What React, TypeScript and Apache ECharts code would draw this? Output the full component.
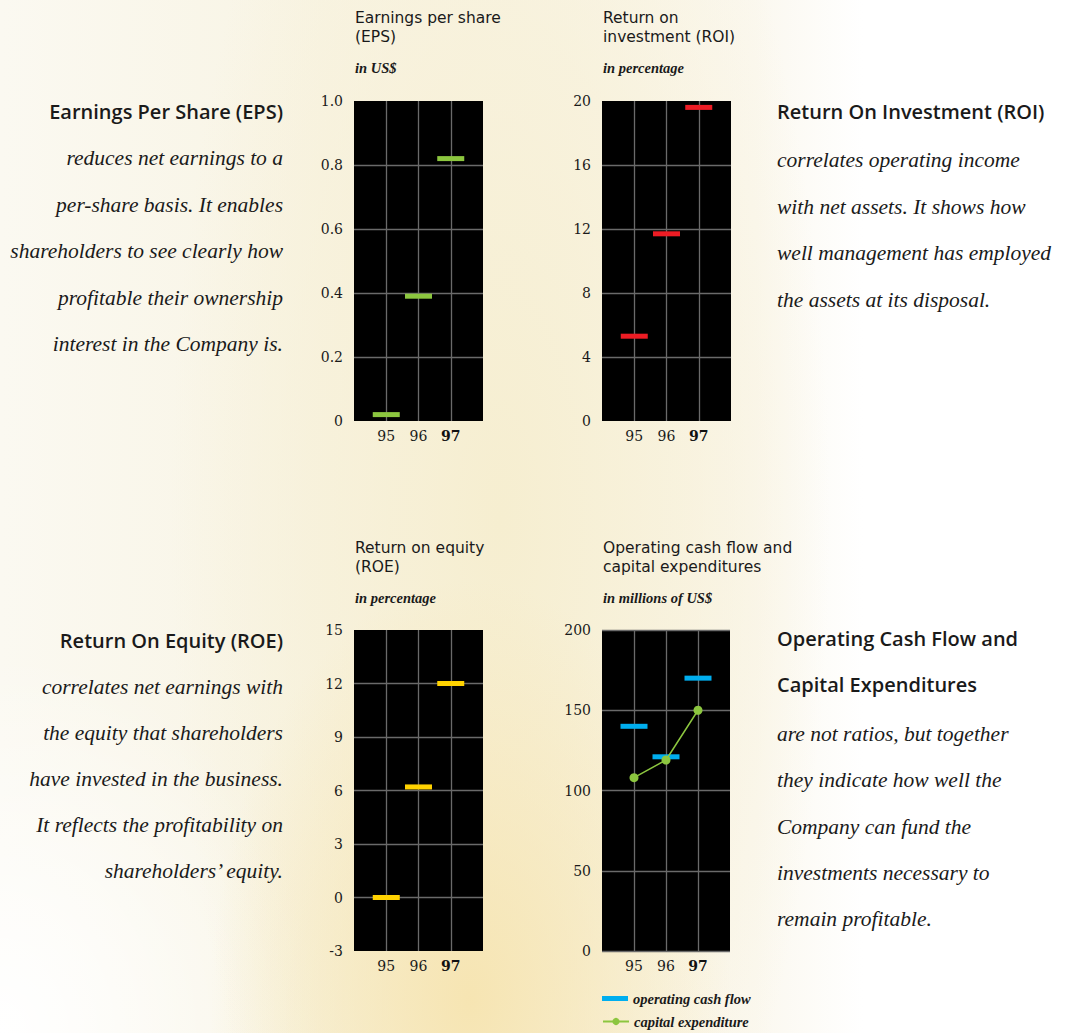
import React, { useEffect, useRef } from "react";
import * as echarts from "echarts";

// ---- data ----
const years = [95, 96, 97];
const eps = [0.02, 0.39, 0.82];
const roi = [5.3, 11.7, 19.6];
const roe = [0, 6.2, 12];
const opCashFlow = [140, 121, 170];
const capex = [108, 119, 150];

const epsTicks = [0, 0.2, 0.4, 0.6, 0.8, 1.0];
const roiTicks = [0, 4, 8, 12, 16, 20];
const roeTicks = [-3, 0, 3, 6, 9, 12, 15];
const cfTicks = [0, 50, 100, 150, 200];

const chartTitles = [
  ["Earnings per share", "(EPS)"],
  ["Return on", "investment (ROI)"],
  ["Return on equity", "(ROE)"],
  ["Operating cash flow and", "capital expenditures"],
];
const chartUnits = ["in US$", "in percentage", "in percentage", "in millions of US$"];

const epsHeading = "Earnings Per Share (EPS)";
const epsBody = [
  "reduces net earnings to a",
  "per-share basis. It enables",
  "shareholders to see clearly how",
  "profitable their ownership",
  "interest in the Company is.",
];
const roiHeading = "Return On Investment (ROI)";
const roiBody = [
  "correlates operating income",
  "with net assets. It shows how",
  "well management has employed",
  "the assets at its disposal.",
];
const roeHeading = "Return On Equity (ROE)";
const roeBody = [
  "correlates net earnings with",
  "the equity that shareholders",
  "have invested in the business.",
  "It reflects the profitability on",
  "shareholders\u2019 equity.",
];
const cfHeading = ["Operating Cash Flow and", "Capital Expenditures"];
const cfBody = [
  "are not ratios, but together",
  "they indicate how well the",
  "Company can fund the",
  "investments necessary to",
  "remain profitable.",
];

const legendNames = ["operating cash flow", "capital expenditure"];

const GREEN = "#8cc63f";
const RED = "#ed1c24";
const YELLOW = "#ffd200";
const BLUE = "#00aeef";
const GRID_LINE = "#6a6a6a";
const TEXT = "#1a1a1a";

const HEAD_FONT = '600 20px "Open Sans"';
const BODY_FONT = 'italic 21.5px "Liberation Serif"';
const TITLE_FONT = '15.5px "DejaVu Sans"';
const UNIT_FONT = 'italic bold 14.5px "Liberation Serif"';

export default function App() {
  const ref = useRef<HTMLDivElement>(null);

  useEffect(() => {
    if (!ref.current) return;
    const chart = echarts.init(ref.current, undefined, { renderer: "svg" });

    const grids = [
      { left: 354, top: 101, width: 129, height: 320 },
      { left: 602, top: 101, width: 129, height: 320 },
      { left: 354, top: 630, width: 129, height: 321 },
      { left: 602, top: 630, width: 128, height: 321 },
    ].map((g) => ({ ...g, show: true, backgroundColor: "#000", borderWidth: 0 }));

    const xAxisFor = (gi: number) => ({
      type: "value",
      gridIndex: gi,
      min: years[0] - 1,
      max: years[years.length - 1] + 1,
      interval: 1,
      axisLine: { show: false },
      axisTick: { show: false },
      splitLine: {
        show: true,
        showMinLine: false,
        showMaxLine: false,
        lineStyle: { color: GRID_LINE, width: 1.3 },
      },
      axisLabel: {
        margin: 8,
        fontFamily: "DejaVu Serif",
        fontSize: 14,
        color: TEXT,
        formatter: (v: number) => {
          const i = years.indexOf(v);
          if (i < 0) return "";
          return i === years.length - 1 ? `{b|${v}}` : `${v}`;
        },
        rich: {
          b: { fontFamily: "DejaVu Serif", fontSize: 14, fontWeight: "bold", color: "#111" },
        },
      },
    });

    const yAxisFor = (
      gi: number,
      ticks: number[],
      fmt: (v: number) => string,
      edges: boolean
    ) => ({
      type: "value",
      gridIndex: gi,
      min: ticks[0],
      max: ticks[ticks.length - 1],
      interval: ticks[1] - ticks[0],
      axisLine: { show: false },
      axisTick: { show: false },
      splitLine: {
        show: true,
        showMinLine: edges,
        showMaxLine: edges,
        lineStyle: { color: GRID_LINE, width: 1.3 },
      },
      axisLabel: {
        margin: 11,
        fontFamily: "DejaVu Serif",
        fontSize: 14,
        color: TEXT,
        formatter: fmt,
      },
    });

    const dash = (name: string, gi: number, vals: number[], color: string) => ({
      name,
      type: "scatter",
      xAxisIndex: gi,
      yAxisIndex: gi,
      symbol: "rect",
      symbolSize: [27, 5],
      itemStyle: { color, opacity: 1 },
      z: 3,
      data: years.map((y, i) => [y, vals[i]]),
    });

    const txt = (
      text: string,
      x: number,
      y: number,
      font: string,
      align: string = "left"
    ) => ({
      type: "text",
      x,
      y,
      silent: true,
      style: {
        text,
        font,
        fill: TEXT,
        textAlign: align,
        textVerticalAlign: "middle",
      },
    });

    const graphics: any[] = [];
    const titlePos = [
      [355, 18],
      [603, 18],
      [355, 548],
      [603, 548],
    ];
    chartTitles.forEach((lines, k) => {
      const [x, y] = titlePos[k];
      lines.forEach((l, j) => graphics.push(txt(l, x, y + j * 19, TITLE_FONT)));
      graphics.push(txt(chartUnits[k], x, y + 50, UNIT_FONT));
    });
    graphics.push(txt(epsHeading, 283, 111, HEAD_FONT, "right"));
    epsBody.forEach((l, j) => graphics.push(txt(l, 283, 158 + j * 46.5, BODY_FONT, "right")));
    graphics.push(txt(roeHeading, 283, 640, HEAD_FONT, "right"));
    roeBody.forEach((l, j) => graphics.push(txt(l, 283, 687 + j * 46, BODY_FONT, "right")));
    graphics.push(txt(roiHeading, 777, 111, HEAD_FONT));
    roiBody.forEach((l, j) => graphics.push(txt(l, 777, 160 + j * 46.5, BODY_FONT)));
    cfHeading.forEach((l, j) => graphics.push(txt(l, 777, 638 + j * 46, HEAD_FONT)));
    cfBody.forEach((l, j) => graphics.push(txt(l, 777, 734 + j * 46.3, BODY_FONT)));

    const legendText = {
      fontFamily: "Liberation Serif",
      fontStyle: "italic",
      fontWeight: "bold",
      fontSize: 14.5,
      color: TEXT,
    };

    const option: any = {
      animation: false,
      backgroundColor: "transparent",
      grid: grids,
      xAxis: [0, 1, 2, 3].map(xAxisFor),
      yAxis: [
        yAxisFor(0, epsTicks, (v) => (v === 0 ? "0" : v.toFixed(1)), false),
        yAxisFor(1, roiTicks, (v) => `${v}`, false),
        yAxisFor(2, roeTicks, (v) => `${v}`, false),
        yAxisFor(3, cfTicks, (v) => `${v}`, true),
      ],
      legend: [
        {
          data: [{ name: legendNames[0], icon: "rect" }],
          left: 602,
          top: 991,
          itemWidth: 26,
          itemHeight: 5,
          padding: 0,
          textStyle: legendText,
        },
        {
          data: [{ name: legendNames[1] }],
          left: 602,
          top: 1014,
          itemWidth: 26,
          itemHeight: 9,
          padding: 0,
          textStyle: legendText,
        },
      ],
      series: [
        dash("EPS", 0, eps, GREEN),
        dash("ROI", 1, roi, RED),
        dash("ROE", 2, roe, YELLOW),
        dash(legendNames[0], 3, opCashFlow, BLUE),
        {
          name: legendNames[1],
          type: "line",
          xAxisIndex: 3,
          yAxisIndex: 3,
          symbol: "circle",
          symbolSize: 9,
          showSymbol: true,
          lineStyle: { color: GREEN, width: 1.5 },
          itemStyle: { color: GREEN, opacity: 1 },
          z: 5,
          data: years.map((y, i) => [y, capex[i]]),
        },
      ],
      graphic: graphics,
    };

    chart.setOption(option);
    return () => chart.dispose();
  }, []);

  return (
    <div
      style={{
        position: "absolute",
        left: 0,
        top: 0,
        width: 1079,
        height: 1033,
        background:
          "radial-gradient(ellipse 260px 420px at 470px 1000px, rgba(246,228,176,0.95), rgba(246,232,190,0) 100%)," +
          "radial-gradient(ellipse 330px 900px at 500px 520px, rgba(246,238,208,1), rgba(247,240,215,0.7) 55%, rgba(255,255,255,0) 100%)," +
          "radial-gradient(ellipse 320px 380px at 0px 1033px, rgba(255,255,255,1), rgba(255,255,255,0) 100%)," +
          "linear-gradient(90deg, #fbf9f1 0%, #f8f4e4 30%, #fbf8ef 70%, #ffffff 80%)",
      }}
    >
      <div ref={ref} style={{ width: 1079, height: 1033 }} />
    </div>
  );
}
